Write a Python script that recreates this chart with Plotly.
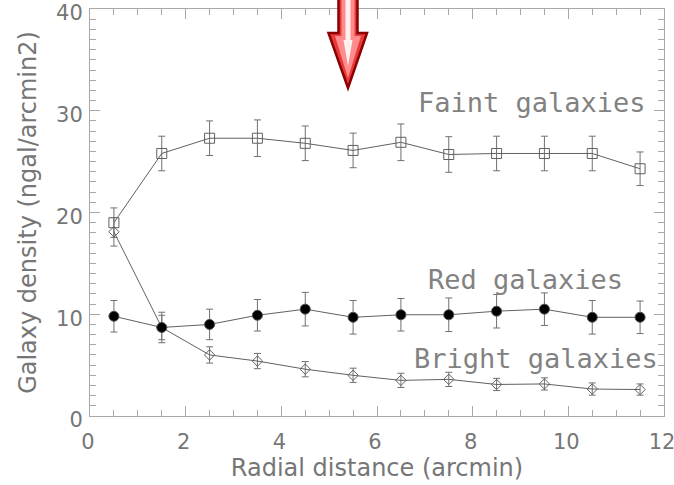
import plotly.graph_objects as go

radius = [0.5, 1.5, 2.5, 3.5, 4.5, 5.5, 6.5, 7.5, 8.5, 9.5, 10.5, 11.5]
faint = [19.0, 25.8, 27.3, 27.3, 26.8, 26.1, 26.9, 25.7, 25.8, 25.8, 25.8, 24.3]
faint_err = [1.45, 1.7, 1.7, 1.8, 1.7, 1.7, 1.8, 1.75, 1.7, 1.7, 1.7, 1.65]
red = [9.8, 8.7, 9.0, 9.9, 10.5, 9.7, 9.95, 9.95, 10.3, 10.5, 9.7, 9.7]
red_err = [1.55, 1.5, 1.5, 1.55, 1.65, 1.65, 1.6, 1.65, 1.65, 1.6, 1.65, 1.6]
bright = [18.1, 8.7, 6.0, 5.4, 4.6, 4.0, 3.5, 3.6, 3.1, 3.15, 2.65, 2.6]
bright_err = [1.4, 1.2, 0.8, 0.75, 0.75, 0.7, 0.7, 0.7, 0.6, 0.6, 0.6, 0.55]

x_ticks = [0, 2, 4, 6, 8, 10, 12]
y_ticks = [0, 10, 20, 30, 40]

PL, PR, PT, PB = 90, 664, 9, 416          # plot area in window pixels
W, H = 674, 485
L, T = PL, PT
R, B = W - PR, H - PB
pw, ph = PR - PL, PB - PT

FONT = "DejaVu Sans"
GREY = "#767676"
AX = "#a8a8a8"
LINE = "#606060"

fig = go.Figure()

def series(y, err, symbol, size, fill):
    fig.add_trace(go.Scatter(
        x=radius, y=y, mode="lines+markers",
        line=dict(color=LINE, width=1),
        marker=dict(symbol=symbol, size=size, color=fill,
                    line=dict(color="#505050", width=1)),
        error_y=dict(type="data", array=err, visible=True,
                     color="#707070", thickness=1, width=3.5),
        showlegend=False, hoverinfo="skip", cliponaxis=False))

series(faint, faint_err, "square-open", 10, "#606060")
series(bright, bright_err, "diamond-open", 8, "#606060")
series(red, red_err, "circle", 10, "black")

ann_font = dict(family="DejaVu Sans Mono", size=27, color="#828282")
fig.add_annotation(x=11.67, y=30.8, text="Faint galaxies", showarrow=False,
                   xanchor="right", yanchor="middle", font=ann_font)
fig.add_annotation(x=11.19, y=13.4, text="Red galaxies", showarrow=False,
                   xanchor="right", yanchor="middle", font=ann_font)
fig.add_annotation(x=11.92, y=5.7, text="Bright galaxies", showarrow=False,
                   xanchor="right", yanchor="middle", font=ann_font)

# decorative arrow (window pixel -> paper conversion)
def px(x):
    return (x - PL) / pw

def py(y):
    return (PB - y) / ph

def poly(pts):
    return "M " + " L ".join(f"{px(a):.4f},{py(b):.4f}" for a, b in pts) + " Z"

outer = [(338.5, -12), (357.5, -12), (357.5, 33), (367, 33), (348, 88),
         (328.5, 33), (338.5, 33)]
mid = [(341.5, -12), (354.5, -12), (354.5, 36), (361, 36), (348, 78),
       (335, 36), (341.5, 36)]
inner = [(345.5, -12), (350.5, -12), (350.5, 40), (352.5, 40), (348, 66),
         (343.5, 40), (345.5, 40)]
fig.add_shape(type="path", xref="paper", yref="paper", path=poly(outer),
              fillcolor="#e83a3a", line=dict(color="#8b0000", width=2.5))
fig.add_shape(type="path", xref="paper", yref="paper", path=poly(mid),
              fillcolor="#ff8c8c", line=dict(width=0))
fig.add_shape(type="path", xref="paper", yref="paper", path=poly(inner),
              fillcolor="#fff0f0", line=dict(width=0))

axis_common = dict(showline=True, linecolor=AX, linewidth=1, mirror="allticks",
                   ticks="inside", tickcolor=AX, tickwidth=1, ticklen=10,
                   showgrid=False, zeroline=False, automargin=False,
                   ticklabeloverflow="allow",
                   tickfont=dict(family=FONT, size=21, color=GREY),
                   title_font=dict(family=FONT, size=24, color=GREY))

fig.update_layout(
    width=W, height=H,
    margin=dict(l=L, r=R, t=T, b=B),
    paper_bgcolor="white", plot_bgcolor="white",
    xaxis=dict(range=[0, 12], tickvals=x_ticks, ticktext=[str(v) for v in x_ticks],
               minor=dict(dtick=0.5, ticks="inside", ticklen=6, tickcolor=AX),
               ticklabelstandoff=7, ticklabelshift=-2,
               title=dict(text="Radial distance (arcmin)", standoff=2),
               **axis_common),
    yaxis=dict(range=[0, 40], tickvals=y_ticks, ticktext=[str(v) for v in y_ticks],
               minor=dict(dtick=1, ticks="inside", ticklen=6, tickcolor=AX),
               ticklabelstandoff=2, ticklabelshift=4,
               title=dict(text="Galaxy density (ngal/arcmin2)", standoff=12),
               **axis_common),
)

fig.write_html("out.html",
               config={"displayModeBar": False},
               post_script="document.body.style.margin='0px';"
                           "document.body.style.overflow='hidden';")
